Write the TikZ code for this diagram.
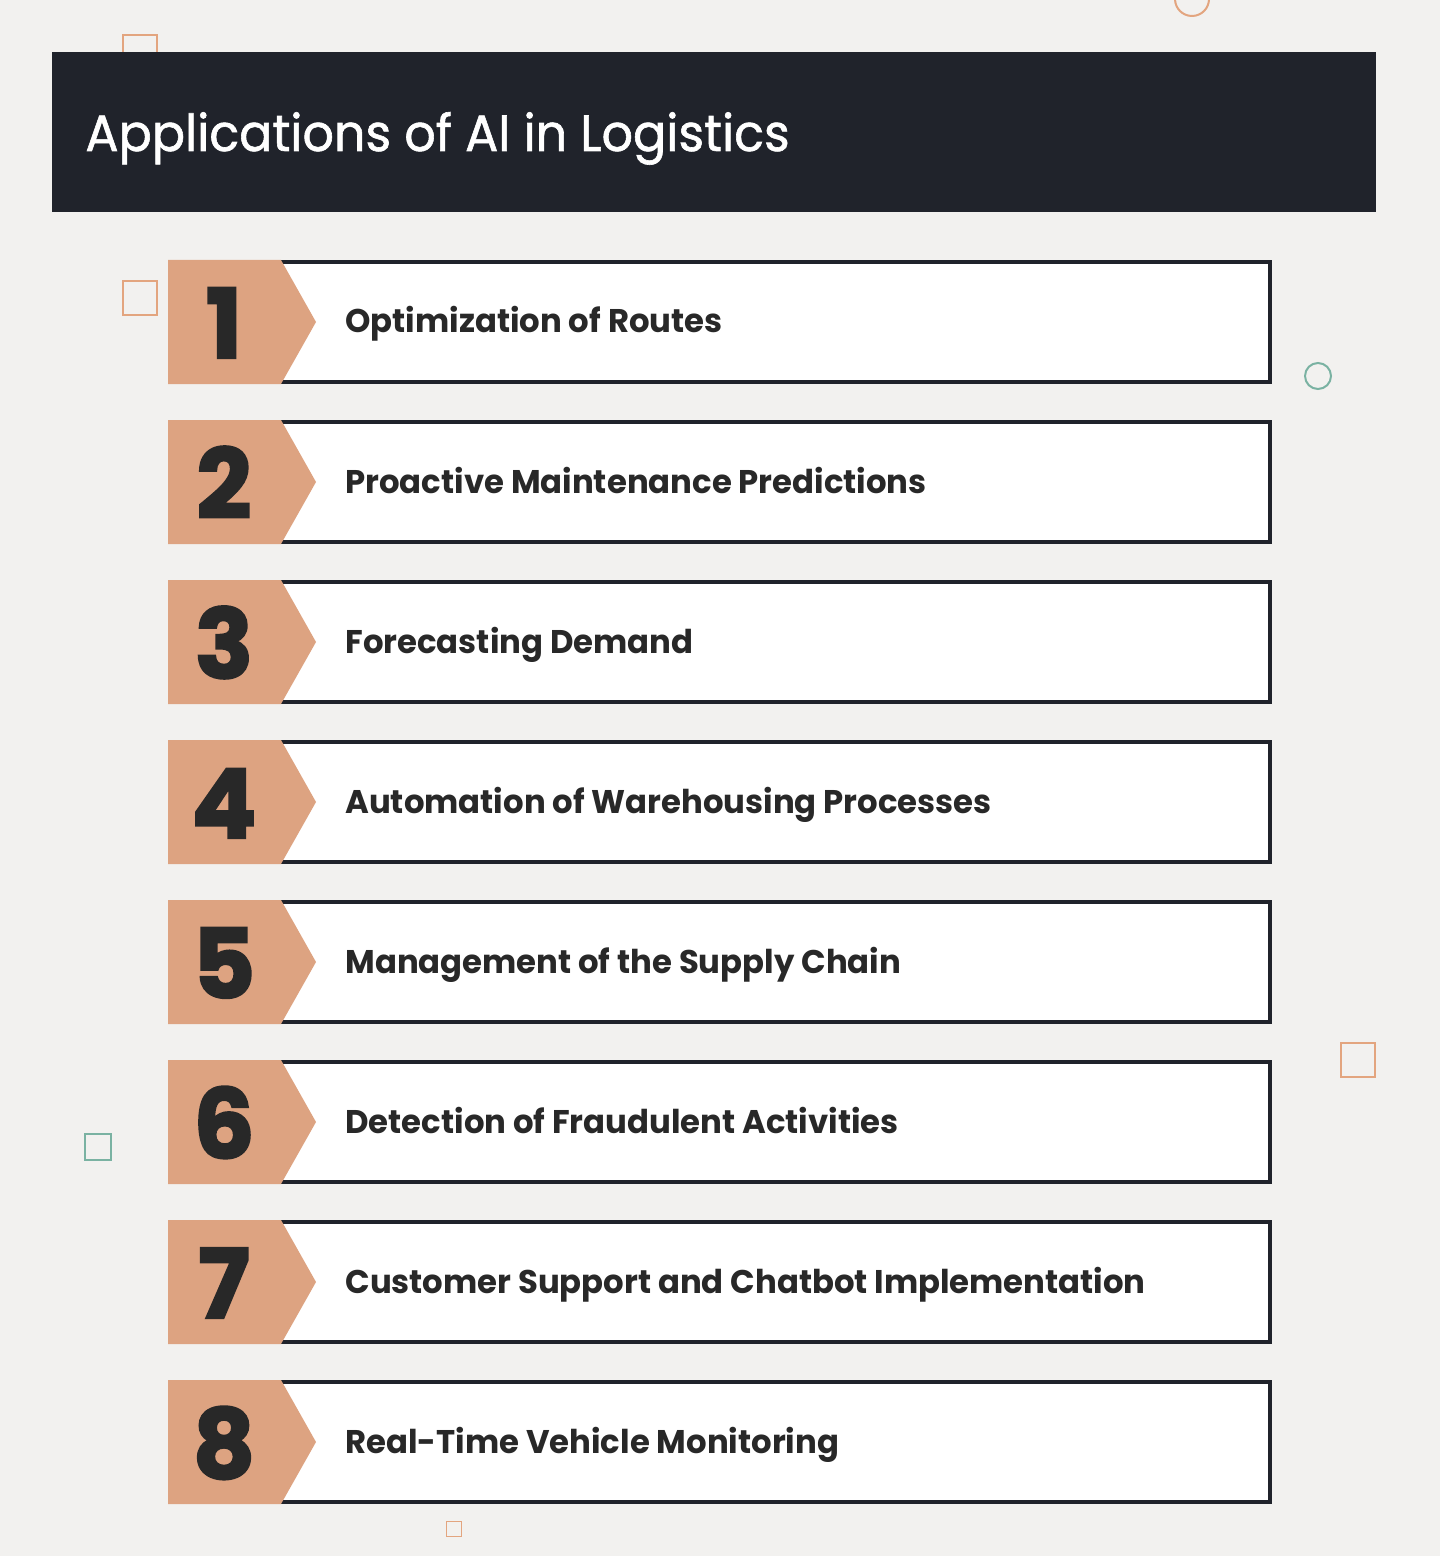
\documentclass[tikz,border=0pt]{standalone}
\usepackage{fontspec}
\setmainfont{Poppins}
\newfontfamily\titlefont[UprightFeatures={FakeBold=1.2}]{Poppins}
\newfontfamily\numfont[BoldFeatures={FakeBold=2.5}]{Poppins}
\definecolor{bgc}{HTML}{F2F1EF}
\definecolor{headc}{HTML}{20232B}
\definecolor{orangec}{HTML}{DDA381}
\definecolor{decoo}{HTML}{E3A57F}
\definecolor{decot}{HTML}{7AB2A2}
\definecolor{txtc}{HTML}{282828}
\tikzset{
  itembox/.style={draw=headc, fill=white, line width=2pt},
  tab/.style={fill=orangec},
  numlabel/.style={anchor=base, text=txtc, font=\numfont\fontsize{48}{50}\selectfont\bfseries, inner sep=0pt},
  itemlabel/.style={anchor=base west, text=txtc, font=\fontsize{16.4}{18}\selectfont\bfseries, inner sep=0pt},
  decosq/.style={draw=decoo, line width=1pt},
  decotl/.style={draw=decot, line width=1pt},
}
\begin{document}
\begin{tikzpicture}[x=0.5pt, y=-0.5pt]
\useasboundingbox (0,0) rectangle (1440,1556);
\fill[bgc] (0,0) rectangle (1440,1556);
% decorations
\draw[decosq] (123,35) rectangle (157,69);
\draw[decosq] (123,281) rectangle (157,315);
\draw[decosq] (1192,-1) circle (17);
\draw[decotl] (1318,376) circle (13);
\draw[decosq] (1341,1043) rectangle (1375,1077);
\draw[decotl] (85,1134) rectangle (111,1160);
\draw[decosq, line width=0.5pt] (446.5,1521.5) rectangle (461.5,1536.5);
% header
\fill[headc] (52,52) rectangle (1376,212);
\node[anchor=base west, text=white, font=\titlefont\fontsize{25.5}{30}\selectfont, inner sep=0pt] (title) at (85,151) {\scalebox{0.965}[1]{Applications of AI in Logistics}};
% items
\foreach \i/\t in {1/Optimization of Routes,
                   2/Proactive Maintenance Predictions,
                   3/Forecasting Demand,
                   4/Automation of Warehousing Processes,
                   5/Management of the Supply Chain,
                   6/Detection of Fraudulent Activities,
                   7/Customer Support and Chatbot Implementation,
                   8/Real-Time Vehicle Monitoring}{
  \pgfmathsetmacro{\yt}{260+160*(\i-1)}
  \draw[itembox] (280,\yt+2) rectangle (1270,\yt+122);
  \fill[tab] (168,\yt) -- (281,\yt) -- (316,\yt+62) -- (281,\yt+124) -- (168,\yt+124) -- cycle;
  \node[numlabel] (num\i) at (224,\yt+98) {\i};
  \node[itemlabel] (lab\i) at (345,\yt+73) {\scalebox{0.985}[1]{\t}};
}
\end{tikzpicture}
\end{document}
